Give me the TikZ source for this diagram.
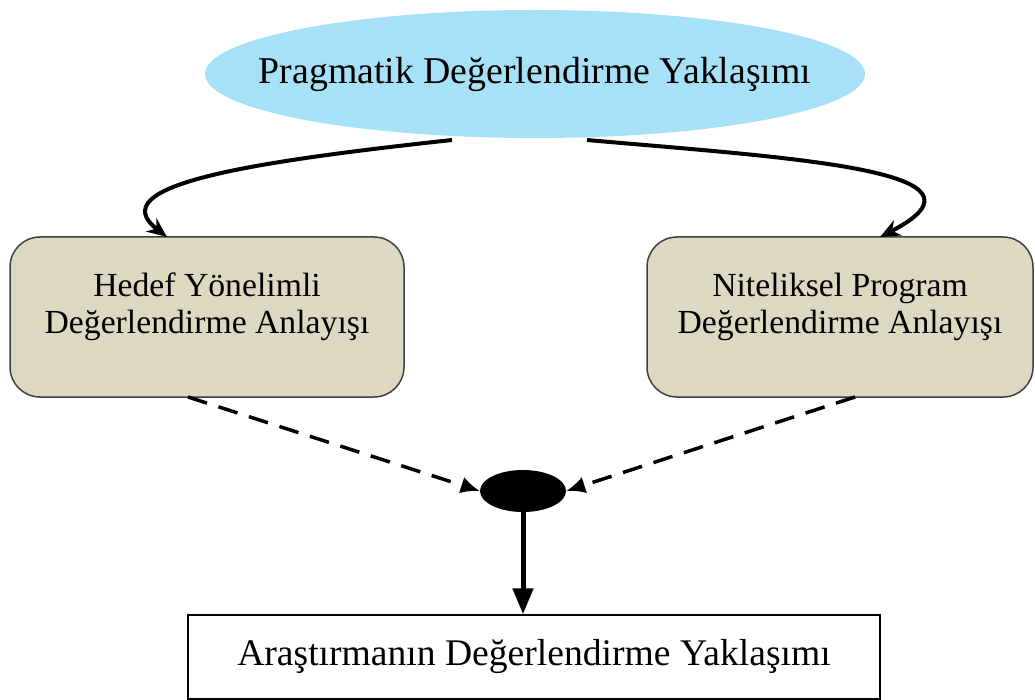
\documentclass[tikz,border=0pt]{standalone}
\usepackage{fontspec}
\setmainfont{Liberation Serif}
\usetikzlibrary{shapes.geometric,arrows.meta}
\definecolor{skyfill}{HTML}{A6E1F8}
\definecolor{tanfill}{HTML}{DDD8C2}
\definecolor{boxline}{HTML}{404040}
\tikzset{
  topell/.style={ellipse,fill=skyfill,inner sep=0pt,minimum width=660pt,minimum height=128pt},
  toptext/.style={font=\fontsize{37.8}{40}\selectfont,inner sep=0pt},
  tanbox/.style={rectangle,rounded corners=30pt,fill=tanfill,draw=boxline,line width=1.5pt,minimum height=160pt,inner sep=0pt,align=center,font=\fontsize{33.7}{37}\selectfont},
  whitebox/.style={rectangle,draw=black,line width=1.5pt,fill=white,minimum width=692pt,minimum height=84pt,inner sep=0pt,font=\fontsize{37.6}{40}\selectfont},
  joinell/.style={ellipse,fill=black,inner sep=0pt,minimum width=86pt,minimum height=42pt},
  curvearr/.style={line width=4pt,-{Stealth[length=20pt,width=17pt]}},
  dasharr/.style={line width=3.5pt,dash pattern=on 20pt off 12pt,-{Latex[length=19pt,width=17pt]}},
  downarr/.style={line width=5pt,-{Triangle[length=26pt,width=20pt]}}
}
\begin{document}
\begin{tikzpicture}[x=1pt,y=-1pt]
\useasboundingbox (0,0) rectangle (1035,700);
\node[topell,label={[toptext]center:Pragmatik Değerlendirme Yaklaşımı}] (top) at (535,74) {};
\node[tanbox,minimum width=394pt] (left) at (207,317) {\raisebox{9pt}[\height][\depth]{\begin{tabular}{c}Hedef Yönelimli\\Değerlendirme Anlayışı\end{tabular}}};
\node[tanbox,minimum width=386pt] (right) at (840,317) {\raisebox{9pt}[\height][\depth]{\begin{tabular}{c}Niteliksel Program\\Değerlendirme Anlayışı\end{tabular}}};
\node[joinell] (join) at (523,491) {};
\node[whitebox] (bottom) at (534,657) {Araştırmanın Değerlendirme Yaklaşımı};
\coordinate (tl) at (452,140);
\coordinate (tr) at (587,140);
\coordinate (lt) at (167,237);
\coordinate (rt) at (880,237);
\draw[curvearr] (tl) .. controls (250,162) and (100,185) .. (lt);
\draw[curvearr] (tr) .. controls (790,158) and (1010,170) .. (rt);
\coordinate (lb) at (188,397);
\coordinate (rb) at (855,397);
\draw[dasharr] (lb) -- (join.west);
\draw[dasharr] (rb) -- (join.east);
\draw[downarr] (join.south) -- (join.south |- bottom.north);
\end{tikzpicture}
\end{document}
